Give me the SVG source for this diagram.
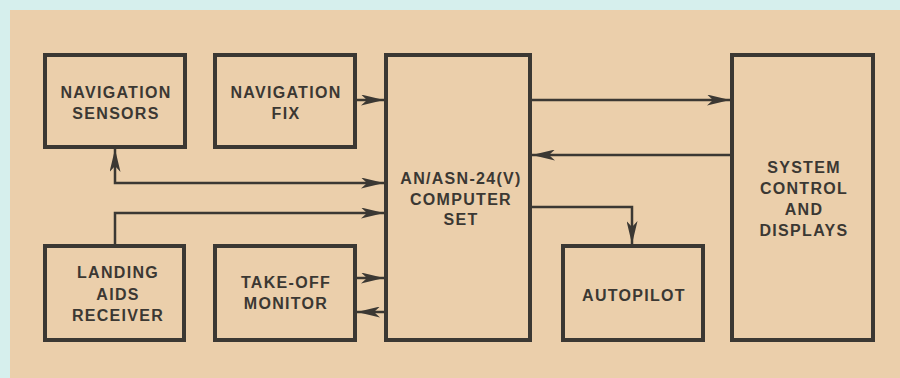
<svg xmlns="http://www.w3.org/2000/svg" width="900" height="378" viewBox="0 0 900 378">
  <defs>
    <style>
      .box { fill: none; stroke: #3b3833; stroke-width: 4; }
      .conn { fill: none; stroke: #3b3833; stroke-width: 2.5; }
      .lbl { font-family: "Liberation Sans", Arial, sans-serif; font-weight: bold; font-size: 16px; letter-spacing: 1.3px; fill: #3b3833; text-anchor: middle; }
    </style>
    <marker id="ah" viewBox="0 0 23 11" refX="23" refY="5.5" markerWidth="23" markerHeight="11" markerUnits="userSpaceOnUse" orient="auto-start-reverse">
      <path d="M0,0 L23,5.5 L0,11 L6,5.5 Z" fill="#3b3833"/>
    </marker>
  </defs>
  <rect x="0" y="0" width="900" height="378" fill="#d6efed"/>
  <rect x="10" y="10" width="890" height="368" fill="#ebcfab"/>

  <g id="connectors">
    <path class="conn" d="M357,100 L384,100" marker-end="url(#ah)"/>
    <path class="conn" d="M115,149 L115,183 L384,183" marker-start="url(#ah)" marker-end="url(#ah)"/>
    <path class="conn" d="M532,100 L730,100" marker-end="url(#ah)"/>
    <path class="conn" d="M730,155 L532,155" marker-end="url(#ah)"/>
    <path class="conn" d="M115,244 L115,213 L384,213" marker-end="url(#ah)"/>
    <path class="conn" d="M532,207 L632,207 L632,244" marker-end="url(#ah)"/>
    <path class="conn" d="M357,278 L384,278" marker-end="url(#ah)"/>
    <path class="conn" d="M384,312 L357,312" marker-end="url(#ah)"/>
  </g>

  <g id="nav-sensors">
    <rect class="box" x="45" y="55" width="140" height="92"/>
    <text class="lbl" x="116" y="98">NAVIGATION</text>
    <text class="lbl" x="116" y="119">SENSORS</text>
  </g>
  <g id="nav-fix">
    <rect class="box" x="215" y="55" width="140" height="92"/>
    <text class="lbl" x="286" y="98">NAVIGATION</text>
    <text class="lbl" x="286" y="119">FIX</text>
  </g>
  <g id="computer">
    <rect class="box" x="386" y="55" width="144" height="285"/>
    <text class="lbl" x="461" y="184">AN/ASN-24(V)</text>
    <text class="lbl" x="461" y="205">COMPUTER</text>
    <text class="lbl" x="461" y="225">SET</text>
  </g>
  <g id="system-control">
    <rect class="box" x="732" y="55" width="141" height="285"/>
    <text class="lbl" x="804" y="173">SYSTEM</text>
    <text class="lbl" x="804" y="194">CONTROL</text>
    <text class="lbl" x="804" y="215">AND</text>
    <text class="lbl" x="804" y="236">DISPLAYS</text>
  </g>
  <g id="landing-aids">
    <rect class="box" x="45" y="246" width="139" height="94"/>
    <text class="lbl" x="118" y="278">LANDING</text>
    <text class="lbl" x="118" y="300">AIDS</text>
    <text class="lbl" x="118" y="321">RECEIVER</text>
  </g>
  <g id="take-off-monitor">
    <rect class="box" x="215" y="246" width="140" height="94"/>
    <text class="lbl" x="286" y="288">TAKE-OFF</text>
    <text class="lbl" x="286" y="309">MONITOR</text>
  </g>
  <g id="autopilot">
    <rect class="box" x="563" y="246" width="140" height="94"/>
    <text class="lbl" x="634" y="301">AUTOPILOT</text>
  </g>
</svg>
